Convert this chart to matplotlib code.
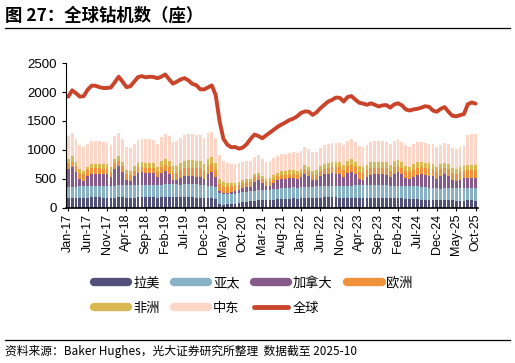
import matplotlib
matplotlib.use("Agg")
import matplotlib.pyplot as plt
from matplotlib.lines import Line2D
import numpy as np
import pandas as pd

CJK = ["Noto Sans CJK SC", "DejaVu Sans"]
plt.rcParams["font.family"] = ["Liberation Sans", "Noto Sans CJK SC"]

months = pd.date_range("2017-01-01", "2025-10-01", freq="MS")
month_labels = [d.strftime("%b-%y") for d in months]

latam = [170, 172, 170, 168, 172, 175, 178, 178, 176, 175, 172, 168,
         175, 178, 180, 175, 172, 174, 178, 180, 182, 180, 178, 172,
         178, 180, 182, 178, 176, 178, 182, 180, 178, 175, 172, 170,
         168, 165, 150, 70, 50, 55, 62, 70, 80, 95, 105, 112,
         118, 125, 128, 130, 135, 140, 145, 150, 155, 158, 160, 158,
         162, 165, 168, 170, 172, 175, 178, 180, 178, 176, 172, 168,
         170, 172, 175, 172, 170, 168, 170, 172, 170, 168, 165, 160,
         162, 165, 160, 158, 152, 148, 145, 140, 135, 130, 128, 125,
         125, 128, 130, 125, 122, 120, 122, 125, 125, 122]
asia_pac = [191, 189, 191, 205, 200, 198, 200, 202, 205, 205, 203, 200,
            205, 208, 210, 212, 215, 215, 218, 220, 218, 220, 222, 218,
            220, 222, 225, 228, 225, 222, 225, 228, 230, 228, 225, 220,
            215, 212, 205, 190, 185, 180, 175, 172, 170, 170, 172, 172,
            170, 172, 175, 175, 178, 180, 182, 185, 185, 188, 190, 188,
            190, 192, 192, 195, 198, 200, 200, 202, 205, 205, 205, 202,
            205, 208, 210, 212, 215, 218, 220, 222, 220, 222, 222, 218,
            215, 215, 218, 220, 222, 220, 222, 218, 215, 212, 210, 208,
            205, 205, 208, 210, 210, 212, 212, 215, 215, 215]
canada = [302, 342, 255, 119, 91, 173, 210, 210, 206, 202, 206, 167,
          294, 333, 232, 95, 80, 159, 210, 211, 199, 201, 193, 136,
          198, 233, 178, 74, 72, 119, 137, 141, 136, 130, 134, 105,
          200, 244, 173, 33, 25, 18, 38, 46, 56, 71, 87, 77,
          160, 173, 115, 62, 64, 111, 148, 161, 160, 165, 168, 143,
          181, 224, 189, 106, 107, 165, 197, 206, 212, 207, 210, 163,
          227, 245, 193, 119, 91, 139, 183, 188, 189, 189, 184, 148,
          206, 232, 203, 139, 123, 167, 203, 221, 218, 211, 210, 165,
          221, 241, 214, 144, 129, 153, 173, 179, 180, 183]
europe = [104, 93, 99, 115, 116, 104, 99, 96, 95, 90, 92, 88,
          92, 95, 95, 95, 92, 90, 92, 92, 88, 88, 85, 85,
          100, 105, 110, 118, 125, 130, 140, 145, 148, 150, 148, 145,
          140, 135, 130, 115, 105, 100, 95, 92, 90, 88, 86, 85,
          80, 78, 75, 72, 70, 68, 65, 62, 60, 62, 65, 68,
          72, 78, 82, 88, 92, 95, 100, 102, 105, 108, 110, 112,
          112, 115, 118, 118, 120, 118, 115, 112, 110, 112, 115, 115,
          112, 110, 108, 110, 112, 115, 118, 118, 118, 120, 120, 118,
          115, 118, 120, 122, 125, 125, 128, 128, 130, 130]
africa = [75, 90, 78, 60, 62, 55, 68, 72, 72, 75, 78, 75,
          80, 82, 80, 78, 78, 80, 82, 85, 88, 90, 90, 88,
          105, 110, 112, 115, 118, 120, 122, 125, 125, 122, 120, 118,
          115, 112, 108, 95, 75, 65, 55, 52, 50, 50, 52, 55,
          55, 58, 60, 62, 62, 65, 65, 68, 68, 70, 72, 72,
          72, 75, 75, 78, 80, 82, 85, 88, 90, 92, 95, 95,
          95, 98, 100, 102, 102, 100, 100, 102, 105, 105, 108, 105,
          105, 105, 102, 100, 100, 98, 98, 96, 95, 92, 92, 90,
          88, 88, 85, 85, 88, 88, 90, 90, 92, 92]
mideast = [405, 405, 400, 410, 405, 400, 400, 398, 398, 395, 392, 392,
           390, 395, 395, 395, 392, 390, 395, 400, 405, 408, 410, 405,
           415, 420, 425, 430, 435, 440, 445, 450, 450, 452, 455, 450,
           445, 440, 435, 400, 370, 350, 335, 325, 320, 315, 312, 310,
           300, 298, 295, 292, 290, 290, 292, 295, 298, 300, 305, 308,
           310, 312, 315, 318, 320, 322, 325, 328, 330, 332, 335, 338,
           340, 342, 345, 345, 345, 348, 350, 350, 352, 352, 350, 350,
           352, 355, 352, 350, 348, 345, 345, 342, 340, 338, 338, 335,
           335, 335, 338, 340, 342, 345, 345, 520, 530, 525]
world = [1920, 2030, 1980, 1920, 1930, 2040, 2110, 2110, 2085, 2070, 2070, 2080,
         2170, 2265, 2180, 2085, 2100, 2180, 2260, 2275, 2255, 2265, 2260, 2240,
         2265, 2305, 2220, 2145, 2180, 2220, 2240, 2200, 2140, 2120, 2050, 2045,
         2080, 2115, 1950, 1500, 1190, 1090, 1045, 1050, 1020, 1040, 1100, 1190,
         1265, 1240, 1200, 1250, 1300, 1350, 1400, 1440, 1475, 1515, 1540, 1580,
         1640, 1665, 1660, 1605, 1650, 1720, 1780, 1835, 1865, 1905, 1900, 1835,
         1915, 1930, 1870, 1815, 1800, 1780, 1805, 1780, 1750, 1770, 1775, 1730,
         1785, 1805, 1770, 1700, 1680, 1700, 1710, 1730, 1755, 1745, 1680, 1660,
         1710, 1740, 1660, 1590, 1580, 1600, 1620, 1790, 1820, 1800]

series = {
    "拉美": (latam, "#51507a"),
    "亚太": (asia_pac, "#89b1c6"),
    "加拿大": (canada, "#875a8c"),
    "欧洲": (europe, "#f0913c"),
    "非洲": (africa, "#d9b851"),
    "中东": (mideast, "#fdd6c8"),
}
line_color = "#c9442a"

fig = plt.figure(figsize=(5.15, 3.63), dpi=100)
ax = fig.add_axes([0.128, 0.428, 0.8, 0.398])

x = np.arange(len(month_labels))
bottom = np.zeros(len(x))
for name, (vals, color) in series.items():
    ax.bar(x, vals, 0.72, bottom=bottom, color=color, linewidth=0)
    bottom += np.array(vals)
ax.plot(x, world, color=line_color, linewidth=2.8, solid_capstyle="round")

ax.set_xlim(-0.6, len(x) - 0.4)
ax.set_ylim(0, 2500)
ax.set_yticks(range(0, 2501, 500))
ax.set_xticks(x[::5])
ax.set_xticklabels(month_labels[::5], rotation=90, fontsize=9)
ax.tick_params(axis="y", labelsize=9.5, length=3, width=0.8)
ax.tick_params(axis="x", length=2.5, width=0.8, pad=2)
for s in ["top", "right"]:
    ax.spines[s].set_visible(False)
ax.spines["left"].set_linewidth(0.8)
ax.spines["bottom"].set_linewidth(1.2)

handles = [Line2D([0], [0], color=c, linewidth=6, solid_capstyle="round")
           for _, c in series.values()]
handles.append(Line2D([0], [0], color=line_color, linewidth=3.5, solid_capstyle="round"))
labels = list(series.keys()) + ["全球"]
# legend fills column by column; reorder so rows read left to right
order = [0, 4, 1, 5, 2, 6, 3]
fig.legend([handles[k] for k in order], [labels[k] for k in order],
           loc="center", bbox_to_anchor=(0.492, 0.185), ncol=4,
           frameon=False, handlelength=2.6, columnspacing=1.1, handletextpad=0.35,
           labelspacing=0.9, prop={"family": CJK, "size": 9.5})

fig.text(0.01, 0.958, "图 27：全球钻机数（座）", fontsize=12.5, fontweight="bold",
         family=CJK, va="center", ha="left")
fig.add_artist(Line2D([0.01, 0.99], [0.922, 0.922], color="black", linewidth=0.9))
fig.add_artist(Line2D([0.01, 0.99], [0.063, 0.063], color="black", linewidth=0.9))
fig.text(0.01, 0.033, "资料来源：Baker Hughes，光大证券研究所整理  数据截至 2025-10",
         fontsize=8.5, family=CJK, va="center", ha="left")

fig.savefig("out.png", dpi=100)
